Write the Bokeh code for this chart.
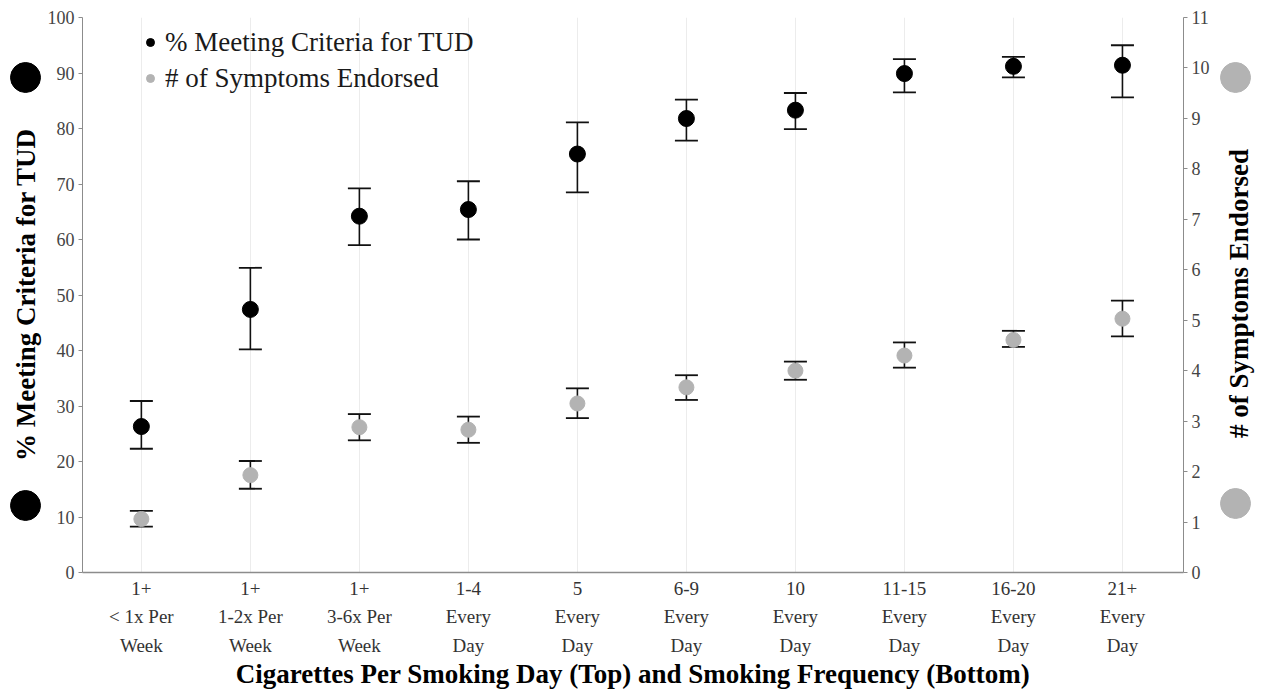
import math
from bokeh.plotting import figure
from bokeh.models import Range1d, LinearAxis, FixedTicker, Legend, LegendItem
from bokeh.layouts import row
from bokeh.core.properties import value
from bokeh.embed import file_html
from bokeh.resources import INLINE

# ---- data ----
cigs_per_day = ["1+", "1+", "1+", "1-4", "5", "6-9", "10", "11-15", "16-20", "21+"]
frequency = ["< 1x Per\nWeek", "1-2x Per\nWeek", "3-6x Per\nWeek", "Every\nDay", "Every\nDay",
             "Every\nDay", "Every\nDay", "Every\nDay", "Every\nDay", "Every\nDay"]
tud_pct = [26.3, 47.4, 64.2, 65.4, 75.4, 81.8, 83.3, 89.9, 91.2, 91.4]
tud_lo = [22.3, 40.2, 59.0, 60.0, 68.5, 77.8, 79.9, 86.5, 89.2, 85.6]
tud_hi = [30.9, 54.9, 69.2, 70.5, 81.1, 85.2, 86.4, 92.5, 92.9, 95.0]
sym_mean = [1.06, 1.93, 2.88, 2.83, 3.35, 3.67, 4.00, 4.30, 4.61, 5.03]
sym_lo = [0.91, 1.66, 2.62, 2.57, 3.06, 3.42, 3.82, 4.06, 4.47, 4.68]
sym_hi = [1.22, 2.21, 3.14, 3.09, 3.65, 3.91, 4.18, 4.56, 4.79, 5.39]

left_title = "% Meeting Criteria for TUD"
right_title = "# of Symptoms Endorsed"
x_title = "Cigarettes Per Smoking Day (Top) and Smoking Frequency (Bottom)"

xs = list(range(len(cigs_per_day)))
tick_labels = {i: f"{t}\n{b}" for i, (t, b) in enumerate(zip(cigs_per_day, frequency))}

SERIF = "Liberation Serif"
BLACK = "#000000"
GRAY = "#b3b3b3"
H = 692
LW, MW, RW = 44, 1171, 47

# ---------------- main plot ----------------
p = figure(width=MW, height=H, output_backend="svg", toolbar_location=None,
           x_range=Range1d(-0.54, len(xs) - 1 + 0.56), y_range=Range1d(0, 100),
           min_border_left=36, min_border_right=32, min_border_top=17, min_border_bottom=100)
p.outline_line_color = None
p.background_fill_color = "white"
p.extra_y_ranges = {"sym": Range1d(0, 11)}

p.ygrid.visible = False
p.xgrid.ticker = FixedTicker(ticks=xs)
p.xgrid.grid_line_color = "#ececec"

xa = p.xaxis[0]
xa.ticker = FixedTicker(ticks=xs)
xa.major_label_overrides = tick_labels
xa.major_tick_line_color = None
xa.major_tick_out = 0
xa.major_tick_in = 0
xa.minor_tick_line_color = None
xa.axis_line_color = "#8c8c8c"
xa.axis_line_width = 1.5
xa.major_label_text_font = SERIF
xa.major_label_text_font_size = "19px"
xa.major_label_text_color = "#333333"
xa.major_label_text_line_height = 1.38
xa.major_label_standoff = 5
xa.axis_label = x_title
xa.axis_label_text_font = SERIF
xa.axis_label_text_font_style = "bold"
xa.axis_label_text_font_size = "27px"
xa.axis_label_text_color = "#000000"
xa.axis_label_standoff = 0

ya = p.yaxis[0]
ya.ticker = FixedTicker(ticks=list(range(0, 101, 10)))
ya.minor_tick_line_color = None
ya.major_tick_in = 0
ya.major_tick_out = 4
ya.major_tick_line_color = "#8c8c8c"
ya.axis_line_color = "#8c8c8c"
ya.major_label_text_font = SERIF
ya.major_label_text_font_size = "18px"
ya.major_label_text_color = "#444444"
ya.major_label_standoff = 4

ra = LinearAxis(y_range_name="sym", ticker=FixedTicker(ticks=list(range(0, 12))))
ra.minor_tick_line_color = None
ra.major_tick_in = 0
ra.major_tick_out = 4
ra.major_tick_line_color = "#8c8c8c"
ra.axis_line_color = "#8c8c8c"
ra.major_label_text_font = SERIF
ra.major_label_text_font_size = "18px"
ra.major_label_text_color = "#444444"
ra.major_label_standoff = 4
p.add_layout(ra, "right")

# error bars
p.segment(x0=xs, x1=xs, y0=tud_lo, y1=tud_hi, line_color="#111111", line_width=1.6)
p.scatter(x=xs + xs, y=tud_lo + tud_hi, marker="dash", size=23, line_color="#111111", line_width=1.8)
p.segment(x0=xs, x1=xs, y0=sym_lo, y1=sym_hi, line_color="#111111", line_width=1.6, y_range_name="sym")
p.scatter(x=xs + xs, y=sym_lo + sym_hi, marker="dash", size=23, line_color="#111111", line_width=1.8,
          y_range_name="sym")

# points
r_tud = p.scatter(x=xs, y=tud_pct, size=16, fill_color=BLACK, line_color=BLACK)
r_sym = p.scatter(x=xs, y=sym_mean, size=15, fill_color=GRAY, line_color=GRAY, y_range_name="sym")

legend = Legend(items=[LegendItem(label=left_title, renderers=[r_tud]),
                       LegendItem(label=right_title, renderers=[r_sym])],
                location=(58, 476), orientation="vertical",
                background_fill_alpha=0, border_line_color=None,
                glyph_width=20, glyph_height=36, label_height=36, label_standoff=5,
                spacing=0, padding=0, margin=0,
                label_text_font=SERIF, label_text_font_size="27px", label_text_color="#1a1a1a")
p.add_layout(legend)


# ---------------- side strips: axis titles with their big marker dots ----------------
# strip frames are aligned with the main plot frame; coordinates below are page pixels
def side_strip(width, title, dot_color, dot_x, dot_ys, text_x, text_y):
    s = figure(width=width, height=H, output_backend="svg", toolbar_location=None,
               x_range=Range1d(0, width), y_range=Range1d(572, 17),
               x_axis_location=None, y_axis_location=None,
               min_border=0, min_border_left=0, min_border_right=0,
               min_border_top=17, min_border_bottom=H - 572)
    s.outline_line_color = None
    s.grid.visible = False
    s.scatter(x=[dot_x] * len(dot_ys), y=dot_ys, size=30, fill_color=dot_color, line_color=dot_color)
    s.text(x=[text_x], y=[text_y], text=[title], angle=math.pi / 2,
           text_font=value(SERIF), text_font_style="bold", text_font_size="27px",
           text_color="#000000", text_align="center", text_baseline="middle")
    return s


left = side_strip(LW, left_title, BLACK, 25, [77, 505], 25, 294)
right = side_strip(RW, right_title, GRAY, 20, [77, 503], 23, 293)

layout = row(left, p, right, spacing=0)
open("out.html", "w").write(file_html(layout, INLINE))
